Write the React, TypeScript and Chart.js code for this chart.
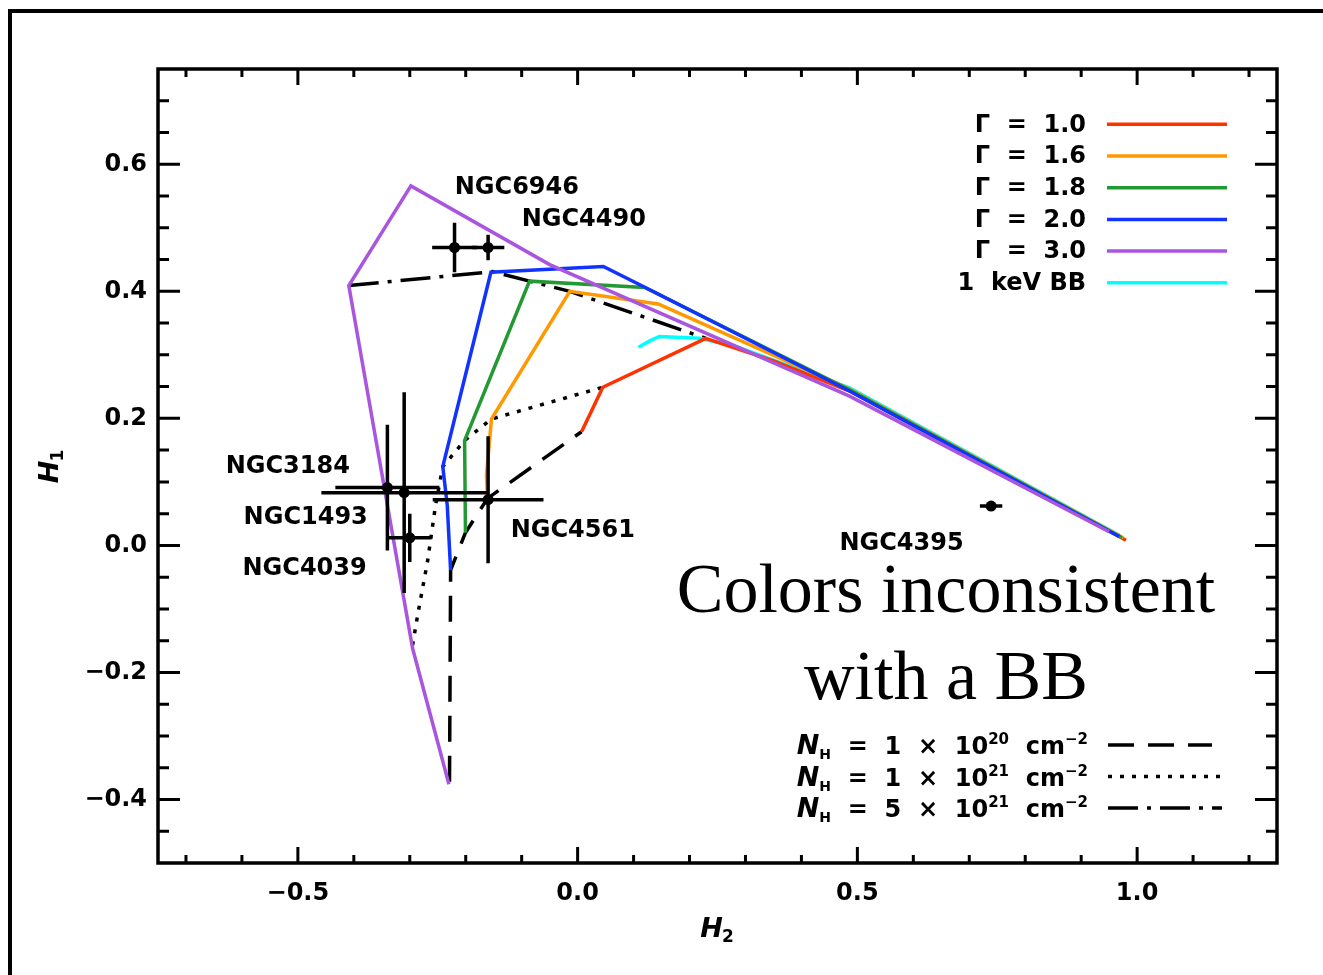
import React, { useEffect, useRef } from 'react';
import { Chart, registerables } from 'chart.js';

Chart.register(...registerables);

// ---------- data (H2 = x, H1 = y) ----------
const gamma10H2 = [0.007, 0.025, 0.045, 0.229, 0.349, 0.486, 0.980];
const gamma10H1 = [0.179, 0.212, 0.249, 0.326, 0.291, 0.243, 0.008];

const gamma16H2 = [-0.161, -0.163, -0.154, -0.014, 0.144, 0.486, 0.975];
const gamma16H1 = [0.074, 0.110, 0.199, 0.400, 0.380, 0.246, 0.012];

const gamma18H2 = [-0.2005, -0.202, -0.086, 0.120, 0.486, 0.973];
const gamma18H1 = [0.020, 0.165, 0.416, 0.406, 0.245, 0.012];

const gamma20H2 = [-0.227, -0.233, -0.241, -0.155, 0.046, 0.121, 0.486, 0.968];
const gamma20H1 = [-0.039, 0.063, 0.124, 0.430, 0.439, 0.406, 0.243, 0.014];

const gamma30H2 = [-0.230, -0.295, -0.409, -0.298, -0.050, 0.486, 0.950];
const gamma30H1 = [-0.376, -0.162, 0.409, 0.566, 0.442, 0.235, 0.0215];

const bbH2 = [0.109, 0.129, 0.146, 0.218, 0.280, 0.486, 0.968];
const bbH1 = [0.312, 0.322, 0.329, 0.326, 0.314, 0.248, 0.016];

const nh20H2 = [-0.229, -0.227, -0.2005, -0.161, 0.007];
const nh20H1 = [-0.372, -0.039, 0.020, 0.074, 0.179];

const nh21H2 = [-0.295, -0.286, -0.268, -0.254, -0.241, -0.202, -0.154, 0.045];
const nh21H1 = [-0.157, -0.110, -0.024, 0.063, 0.124, 0.165, 0.199, 0.249];

const nh5e21H2 = [-0.409, -0.152, -0.086, -0.014, 0.229];
const nh5e21H1 = [0.409, 0.431, 0.416, 0.400, 0.326];

const galaxyNames = ['NGC6946', 'NGC4490', 'NGC3184', 'NGC1493', 'NGC4039', 'NGC4561', 'NGC4395'];
const galaxyH2 = [-0.220, -0.160, -0.340, -0.310, -0.300, -0.160, 0.739];
const galaxyH1 = [0.469, 0.469, 0.091, 0.083, 0.012, 0.072, 0.062];
const galaxyH2Err = [0.040, 0.029, 0.093, 0.148, 0.039, 0.099, 0.020];
const galaxyH1Err = [0.039, 0.020, 0.099, 0.158, 0.038, 0.100, 0.008];

// label anchors (data units) and alignment
const labelH2 = [-0.2196, -0.100, -0.407, -0.375, -0.377, -0.1196, 0.468];
const labelH1 = [0.565, 0.5145, 0.1255, 0.0455, -0.0345, 0.025, 0.0047];
const labelAlign = ['left', 'left', 'right', 'right', 'right', 'left', 'left'];

const xMajorTicks = [-0.5, 0.0, 0.5, 1.0];
const yMajorTicks = [-0.4, -0.2, 0.0, 0.2, 0.4, 0.6];

const gammaLegendLabels = ['Γ  =  1.0', 'Γ  =  1.6', 'Γ  =  1.8', 'Γ  =  2.0', 'Γ  =  3.0', '1  keV BB'];
const gammaColors = ['#ff3300', '#ff9900', '#229933', '#1133ff', '#aa55dd', '#00ffff'];

const nhCoef = ['1', '1', '5'];
const nhExp = ['20', '21', '21'];

const DASHED = [26, 14];
const DOTTED = [4, 8];
const DASHDOT = [30, 9, 4, 9];
const nhDashes = [DASHED, DOTTED, DASHDOT];
const nhLineLen = [104, 120, 114];

const FONT = '"DejaVu Sans", sans-serif';

const fmt = (v: number) => {
  const s = Math.abs(v).toFixed(1);
  return v < -1e-9 ? '\u2212' + s : s;
};

const pts = (xs: number[], ys: number[]) => xs.map((x, i) => ({ x, y: ys[i] }));

const lineDs = (label: string, xs: number[], ys: number[], color: string, order: number, dash: number[] = []) => ({
  label,
  data: pts(xs, ys),
  showLine: true,
  borderColor: color,
  backgroundColor: color,
  borderWidth: 3.5,
  borderDash: dash,
  pointRadius: 0,
  pointHoverRadius: 0,
  fill: false,
  tension: 0,
  order,
});

// draws "H" + subscript centred at (0,0) in current transform
const drawSubTitle = (ctx: CanvasRenderingContext2D, main: string, sub: string) => {
  const mainFont = `italic bold 27px ${FONT}`;
  const subFont = `bold 17px ${FONT}`;
  ctx.font = mainFont;
  const w1 = ctx.measureText(main).width;
  ctx.font = subFont;
  const w2 = ctx.measureText(sub).width;
  const x0 = -(w1 + w2) / 2;
  ctx.textAlign = 'left';
  ctx.textBaseline = 'alphabetic';
  ctx.font = mainFont;
  ctx.fillText(main, x0, 8);
  ctx.font = subFont;
  ctx.fillText(sub, x0 + w1 - 1, 13);
};

const decorPlugin = {
  id: 'decor',
  beforeDraw(chart: any) {
    const ctx = chart.ctx;
    ctx.save();
    ctx.fillStyle = '#fff';
    ctx.fillRect(0, 0, chart.width, chart.height);
    ctx.fillStyle = '#000';
    ctx.fillRect(8, 9, chart.width - 8, 4);
    ctx.fillRect(8, 9, 4, chart.height - 9);
    ctx.restore();
  },
  afterDatasetsDraw(chart: any) {
    const ctx = chart.ctx;
    const xs = chart.scales.x;
    const ys = chart.scales.y;
    ctx.save();
    ctx.strokeStyle = '#000';
    ctx.lineWidth = 3.5;
    ctx.lineCap = 'butt';
    for (let i = 0; i < galaxyH2.length; i++) {
      const x0 = xs.getPixelForValue(galaxyH2[i] - galaxyH2Err[i]);
      const x1 = xs.getPixelForValue(galaxyH2[i] + galaxyH2Err[i]);
      const y0 = ys.getPixelForValue(galaxyH1[i] - galaxyH1Err[i]);
      const y1 = ys.getPixelForValue(galaxyH1[i] + galaxyH1Err[i]);
      const cx = xs.getPixelForValue(galaxyH2[i]);
      const cy = ys.getPixelForValue(galaxyH1[i]);
      ctx.beginPath();
      ctx.moveTo(x0, cy);
      ctx.lineTo(x1, cy);
      ctx.moveTo(cx, y0);
      ctx.lineTo(cx, y1);
      ctx.stroke();
    }
    ctx.restore();
  },
  afterDraw(chart: any) {
    const ctx = chart.ctx;
    const xs = chart.scales.x;
    const ys = chart.scales.y;
    const { left, right, top, bottom } = chart.chartArea;
    ctx.save();
    // frame
    ctx.strokeStyle = '#000';
    ctx.lineWidth = 3.5;
    ctx.strokeRect(left, top, right - left, bottom - top);
    // ticks
    ctx.lineWidth = 3;
    const tick = (px: number, horiz: boolean, len: number) => {
      ctx.beginPath();
      if (horiz) {
        ctx.moveTo(px, bottom);
        ctx.lineTo(px, bottom - len);
        ctx.moveTo(px, top);
        ctx.lineTo(px, top + len);
      } else {
        ctx.moveTo(left, px);
        ctx.lineTo(left + len, px);
        ctx.moveTo(right, px);
        ctx.lineTo(right - len, px);
      }
      ctx.stroke();
    };
    for (let k = -7; k <= 12; k++) {
      const v = k / 10;
      const major = xMajorTicks.some((m) => Math.abs(m - v) < 1e-9);
      tick(xs.getPixelForValue(v), true, major ? 16 : 8);
    }
    for (let k = -9; k <= 14; k++) {
      const v = k / 20;
      const major = yMajorTicks.some((m) => Math.abs(m - v) < 1e-9);
      tick(ys.getPixelForValue(v), false, major ? 22 : 11);
    }

    // axis titles
    ctx.fillStyle = '#000';
    ctx.save();
    ctx.translate((left + right) / 2, bottom + 66);
    drawSubTitle(ctx, 'H', '2');
    ctx.restore();
    ctx.save();
    ctx.translate(left - 108, (top + bottom) / 2);
    ctx.rotate(-Math.PI / 2);
    drawSubTitle(ctx, 'H', '1');
    ctx.restore();

    // galaxy labels
    ctx.fillStyle = '#000';
    ctx.font = `bold 24px ${FONT}`;
    ctx.textBaseline = 'middle';
    for (let i = 0; i < galaxyNames.length; i++) {
      ctx.textAlign = labelAlign[i] as CanvasTextAlign;
      ctx.fillText(galaxyNames[i], xs.getPixelForValue(labelH2[i]), ys.getPixelForValue(labelH1[i]) + 1);
    }

    // gamma legend
    const gTextRight = right - 191;
    const gLineStart = right - 170;
    const gLineEnd = right - 50;
    for (let i = 0; i < gammaLegendLabels.length; i++) {
      const y = top + 55.3 + i * 31.7;
      ctx.textAlign = 'right';
      ctx.textBaseline = 'middle';
      ctx.fillStyle = '#000';
      ctx.font = `bold 24px ${FONT}`;
      ctx.fillText(gammaLegendLabels[i], gTextRight, y + 1);
      ctx.strokeStyle = gammaColors[i];
      ctx.lineWidth = 3.5;
      ctx.setLineDash([]);
      ctx.beginPath();
      ctx.moveTo(gLineStart, y);
      ctx.lineTo(gLineEnd, y);
      ctx.stroke();
    }

    // NH legend
    const nTextRight = right - 189;
    const nLineStart = right - 169;
    for (let i = 0; i < nhCoef.length; i++) {
      const y = top + 676 + i * 31.5;
      const base = y + 9;
      const parts = [
        { t: 'N', f: `italic bold 27px ${FONT}`, dy: 0 },
        { t: 'H', f: `bold 14px ${FONT}`, dy: 5 },
        { t: '  =  ' + nhCoef[i] + '  \u00d7  10', f: `bold 24px ${FONT}`, dy: 0 },
        { t: nhExp[i], f: `bold 15px ${FONT}`, dy: -10 },
        { t: '  cm', f: `bold 24px ${FONT}`, dy: 0 },
        { t: '\u22122', f: `bold 15px ${FONT}`, dy: -10 },
      ];
      let total = 0;
      const widths = parts.map((p) => {
        ctx.font = p.f;
        const w = ctx.measureText(p.t).width;
        total += w;
        return w;
      });
      let x = nTextRight - total;
      ctx.textAlign = 'left';
      ctx.textBaseline = 'alphabetic';
      ctx.fillStyle = '#000';
      parts.forEach((p, j) => {
        ctx.font = p.f;
        ctx.fillText(p.t, x, base + p.dy);
        x += widths[j];
      });
      ctx.strokeStyle = '#000';
      ctx.lineWidth = 3.5;
      ctx.setLineDash(nhDashes[i]);
      ctx.beginPath();
      ctx.moveTo(nLineStart, y);
      ctx.lineTo(nLineStart + nhLineLen[i], y);
      ctx.stroke();
      ctx.setLineDash([]);
    }

    // annotation text
    ctx.fillStyle = '#000';
    ctx.font = '70px "Liberation Serif", serif';
    ctx.textAlign = 'center';
    ctx.textBaseline = 'alphabetic';
    const cx = right - 331;
    ctx.fillText('Colors inconsistent', cx, top + 543);
    ctx.fillText('with a BB', cx, top + 630);
    ctx.restore();
  },
};

export default function App() {
  const ref = useRef<HTMLCanvasElement | null>(null);

  useEffect(() => {
    if (!ref.current) return;
    const chart = new Chart(ref.current, {
      type: 'scatter',
      data: {
        datasets: [
          {
            label: 'galaxies',
            data: pts(galaxyH2, galaxyH1),
            pointRadius: 5.5,
            pointHoverRadius: 5.5,
            pointBackgroundColor: '#000',
            pointBorderColor: '#000',
            borderWidth: 0,
            showLine: false,
            order: 0,
          } as any,
          lineDs('Γ = 3.0', gamma30H2, gamma30H1, gammaColors[4], 1),
          lineDs('Γ = 2.0', gamma20H2, gamma20H1, gammaColors[3], 2),
          lineDs('Γ = 1.8', gamma18H2, gamma18H1, gammaColors[2], 3),
          lineDs('Γ = 1.6', gamma16H2, gamma16H1, gammaColors[1], 4),
          lineDs('Γ = 1.0', gamma10H2, gamma10H1, gammaColors[0], 5),
          lineDs('1 keV BB', bbH2, bbH1, gammaColors[5], 6),
          lineDs('NH 5e21', nh5e21H2, nh5e21H1, '#000', 7, DASHDOT),
          lineDs('NH 1e21', nh21H2, nh21H1, '#000', 8, DOTTED),
          lineDs('NH 1e20', nh20H2, nh20H1, '#000', 9, DASHED),
        ],
      },
      options: {
        responsive: false,
        maintainAspectRatio: false,
        devicePixelRatio: 1,
        animation: false,
        events: [],
        layout: { padding: { left: 0, top: 69, right: 46, bottom: 0 } },
        plugins: {
          legend: { display: false },
          tooltip: { enabled: false },
        },
        scales: {
          x: {
            type: 'linear',
            min: -0.75,
            max: 1.25,
            afterBuildTicks: (s: any) => {
              s.ticks = xMajorTicks.map((v) => ({ value: v }));
            },
            afterFit: (s: any) => {
              s.height = 112;
            },
            grid: { display: false, drawTicks: false },
            border: { display: false },
            ticks: {
              color: '#000',
              font: { family: FONT, size: 24, weight: 'bold' },
              padding: 16,
              maxRotation: 0,
              autoSkip: false,
              callback: (v: any) => fmt(Number(v)),
            },
            title: { display: false },
          },
          y: {
            type: 'linear',
            min: -0.5,
            max: 0.75,
            afterBuildTicks: (s: any) => {
              s.ticks = yMajorTicks.map((v) => ({ value: v }));
            },
            afterFit: (s: any) => {
              s.width = 158;
            },
            grid: { display: false, drawTicks: false },
            border: { display: false },
            ticks: {
              color: '#000',
              font: { family: FONT, size: 24, weight: 'bold' },
              padding: 11,
              autoSkip: false,
              callback: (v: any) => fmt(Number(v)),
            },
            title: { display: false },
          },
        },
      } as any,
      plugins: [decorPlugin],
    });
    return () => chart.destroy();
  }, []);

  return (
    <div style={{ position: 'fixed', left: 0, top: 0, width: 1323, height: 975, background: '#fff' }}>
      <canvas ref={ref} width={1323} height={975} style={{ display: 'block', width: 1323, height: 975 }} />
    </div>
  );
}
